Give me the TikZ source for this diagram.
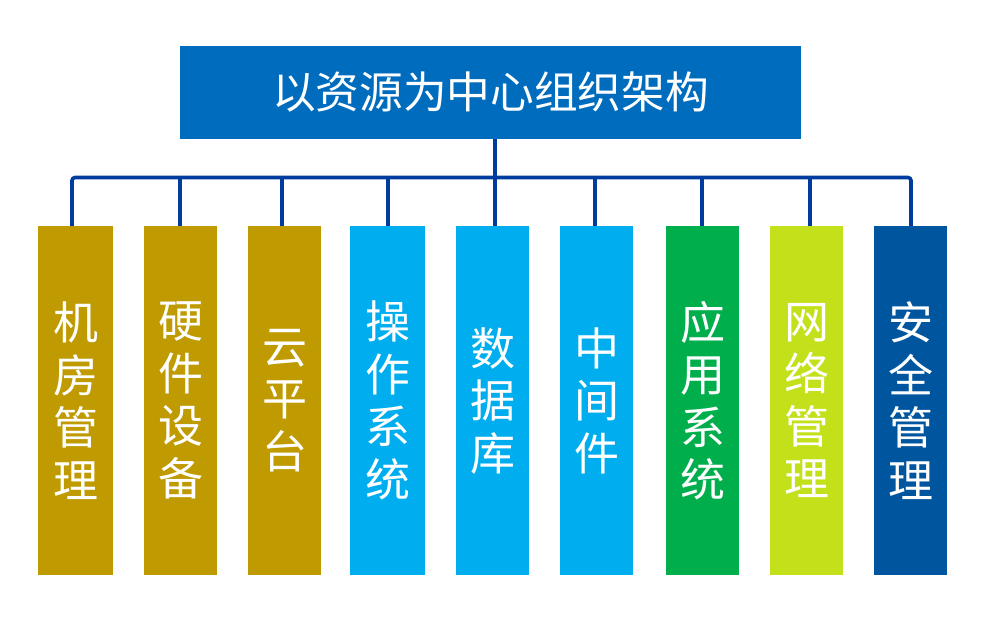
\documentclass[tikz,border=0pt]{standalone}
\usepackage{fontspec}
\newfontfamily\cjkfont{Noto Sans CJK SC}
\definecolor{titleblue}{HTML}{006CBE}
\definecolor{linkblue}{HTML}{003C9E}
\definecolor{gold}{HTML}{BF9A00}
\definecolor{sky}{HTML}{00AEEF}
\definecolor{leaf}{HTML}{00AF4C}
\definecolor{lime}{HTML}{C4E01A}
\definecolor{navy}{HTML}{00559F}
\tikzset{
  titlebox/.style={fill=titleblue,text=white,inner sep=0,minimum width=621,minimum height=93,
    font=\cjkfont\fontsize{43.7}{50}\selectfont},
  colbox/.style={text=white,inner sep=0,minimum height=349,align=center,
    font=\cjkfont\fontsize{45}{52.5}\selectfont},
  link/.style={linkblue,line width=3.6pt}
}
\begin{document}
\begin{tikzpicture}[x=1pt,y=-1pt]
   \useasboundingbox (0,0) rectangle (996,632);
   \node[titlebox] (title) at (490.5,92.5) {以资源为中心组织架构};
   \foreach \name/\cx/\boxw/\col/\txt in {
      room/75.5/75/gold/{机\\房\\管\\理},
      hard/180.5/73/gold/{硬\\件\\设\\备},
      cloud/284.5/73/gold/{云\\平\\台},
      os/387.5/75/sky/{操\\作\\系\\统},
      db/492.5/73/sky/{数\\据\\库},
      mid/596.5/73/sky/{中\\间\\件},
      app/702.5/73/leaf/{应\\用\\系\\统},
      net/806.5/73/lime/{网\\络\\管\\理},
      safe/910.5/73/navy/{安\\全\\管\\理}}
      \node[colbox,fill=\col,minimum width=\boxw] (\name) at (\cx,400.5) {\txt};
   % the bus and its drops
   \coordinate (bus) at (495,177.5);
   \draw[link] (title.south -| bus) -- (bus);
   \draw[link,rounded corners=3pt] (room.north -| 72,0) -- (72,177.5) -- (911,177.5) -- (safe.north -| 911,0);
   \foreach \name/\dx in {hard/180,cloud/282,os/388,db/495,mid/595,app/702,net/810}
      \draw[link] (bus -| \dx,0) -- (\name.north -| \dx,0);
\end{tikzpicture}
\end{document}
